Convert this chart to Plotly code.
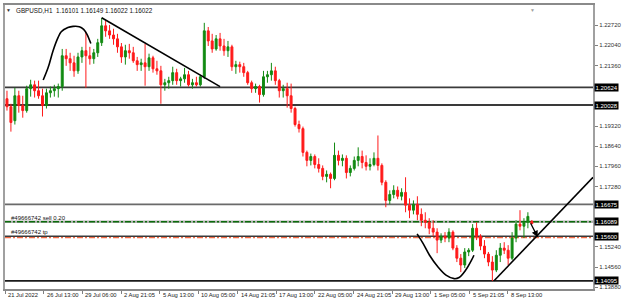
import plotly.graph_objects as go

# ---------------- data ----------------
opens = [1.2024, 1.1997, 1.1950, 1.2034, 1.2001, 1.1984, 1.2058, 1.2071, 1.2051, 1.2034,
         1.2001, 1.2044, 1.2051, 1.2058, 1.2065, 1.2169, 1.2159, 1.2145, 1.2118, 1.2165,
         1.2186, 1.2169, 1.2159, 1.2179, 1.2213, 1.2270, 1.2253, 1.2239, 1.2226, 1.2199,
         1.2165, 1.2186, 1.2179, 1.2152, 1.2139, 1.2145, 1.2132, 1.2162, 1.2125, 1.2118,
         1.2071, 1.2078, 1.2085, 1.2112, 1.2085, 1.2091, 1.2105, 1.2071, 1.2078, 1.2071,
         1.2098, 1.2253, 1.2219, 1.2192, 1.2226, 1.2202, 1.2186, 1.2199, 1.2132, 1.2139,
         1.2132, 1.2112, 1.2078, 1.2058, 1.2065, 1.2038, 1.2098, 1.2105, 1.2118, 1.2085,
         1.2051, 1.2058, 1.2034, 1.1991, 1.1937, 1.1923, 1.1843, 1.1816, 1.1829, 1.1802,
         1.1789, 1.1762, 1.1769, 1.1755, 1.1833, 1.1816, 1.1823, 1.1775, 1.1789, 1.1816,
         1.1829, 1.1809, 1.1796, 1.1802, 1.1823, 1.1799, 1.1742, 1.1681, 1.1701, 1.1715,
         1.1695, 1.1708, 1.1665, 1.1648, 1.1668, 1.1634, 1.1614, 1.1607, 1.1587, 1.1574,
         1.1547, 1.1560, 1.1554, 1.1574, 1.1520, 1.1486, 1.1463, 1.1507, 1.1513, 1.1587,
         1.1560, 1.1527, 1.1500, 1.1473, 1.1446, 1.1496, 1.1520, 1.1513, 1.1486, 1.1554,
         1.1601, 1.1594, 1.1607, 1.16101]
highs = [1.2051, 1.2007, 1.2061, 1.2051, 1.2034, 1.2068, 1.2088, 1.2085, 1.2085, 1.2058,
         1.2058, 1.2065, 1.2071, 1.2075, 1.2192, 1.2192, 1.2179, 1.2169, 1.2179, 1.2199,
         1.2250, 1.2199, 1.2192, 1.2226, 1.2297, 1.2287, 1.2273, 1.2260, 1.2243, 1.2212,
         1.2206, 1.2209, 1.2199, 1.2165, 1.2159, 1.2209, 1.2176, 1.2169, 1.2152, 1.2135,
         1.2091, 1.2098, 1.2132, 1.2125, 1.2098, 1.2128, 1.2118, 1.2091, 1.2098, 1.2105,
         1.2280, 1.2266, 1.2243, 1.2239, 1.2246, 1.2226, 1.2219, 1.2206, 1.2152, 1.2149,
         1.2145, 1.2118, 1.2085, 1.2075, 1.2071, 1.2118, 1.2118, 1.2145, 1.2132, 1.2091,
         1.2071, 1.2078, 1.2075, 1.1997, 1.1950, 1.1930, 1.1849, 1.1839, 1.1836, 1.1823,
         1.1799, 1.1782, 1.1775, 1.1876, 1.1849, 1.1836, 1.1833, 1.1799, 1.1829, 1.1860,
         1.1849, 1.1833, 1.1823, 1.1843, 1.1900, 1.1806, 1.1749, 1.1715, 1.1732, 1.1728,
         1.1722, 1.1759, 1.1688, 1.1681, 1.1695, 1.1654, 1.1641, 1.1621, 1.1614, 1.1587,
         1.1570, 1.1574, 1.1587, 1.1580, 1.1530, 1.1500, 1.1520, 1.1520, 1.1601, 1.1607,
         1.1567, 1.1547, 1.1507, 1.1493, 1.1513, 1.1537, 1.1540, 1.1530, 1.1574, 1.1614,
         1.1648, 1.1621, 1.1641, 1.16149]
lows = [1.1984, 1.1913, 1.1937, 1.1977, 1.1960, 1.1977, 1.2031, 1.2028, 1.2024, 1.1964,
        1.1991, 1.2028, 1.2031, 1.2028, 1.2051, 1.2135, 1.2118, 1.2098, 1.2108, 1.2145,
        1.2061, 1.2139, 1.2142, 1.2165, 1.2202, 1.2233, 1.2226, 1.2206, 1.2179, 1.2145,
        1.2139, 1.2159, 1.2145, 1.2118, 1.2118, 1.2068, 1.2118, 1.2112, 1.2105, 1.2007,
        1.2051, 1.2058, 1.2071, 1.2071, 1.2065, 1.2078, 1.2065, 1.2058, 1.2065, 1.2065,
        1.2091, 1.2202, 1.2179, 1.2186, 1.2186, 1.2169, 1.2165, 1.2118, 1.2108, 1.2112,
        1.2098, 1.2071, 1.2044, 1.2044, 1.2011, 1.2031, 1.2078, 1.2085, 1.2071, 1.2028,
        1.2028, 1.1994, 1.1977, 1.1930, 1.1910, 1.1829, 1.1796, 1.1799, 1.1789, 1.1775,
        1.1749, 1.1742, 1.1722, 1.1749, 1.1799, 1.1796, 1.1755, 1.1762, 1.1782, 1.1796,
        1.1789, 1.1782, 1.1782, 1.1796, 1.1782, 1.1732, 1.1658, 1.1668, 1.1688, 1.1685,
        1.1681, 1.1641, 1.1621, 1.1634, 1.1614, 1.1594, 1.1587, 1.1567, 1.1560, 1.1503,
        1.1537, 1.1540, 1.1540, 1.1513, 1.1473, 1.1439, 1.1453, 1.1493, 1.1507, 1.1547,
        1.1513, 1.1486, 1.1459, 1.1409, 1.1439, 1.1473, 1.1500, 1.1463, 1.1480, 1.1540,
        1.1580, 1.1554, 1.1587, 1.16022]
closes = [1.1997, 1.1944, 1.2034, 1.2001, 1.1984, 1.2058, 1.2071, 1.2051, 1.2034, 1.2001,
          1.2044, 1.2051, 1.2058, 1.2065, 1.2169, 1.2159, 1.2145, 1.2118, 1.2165, 1.2186,
          1.2169, 1.2159, 1.2179, 1.2213, 1.2270, 1.2253, 1.2239, 1.2226, 1.2199, 1.2165,
          1.2186, 1.2179, 1.2152, 1.2139, 1.2145, 1.2132, 1.2162, 1.2125, 1.2118, 1.2071,
          1.2078, 1.2085, 1.2112, 1.2085, 1.2091, 1.2105, 1.2071, 1.2078, 1.2071, 1.2098,
          1.2253, 1.2219, 1.2192, 1.2226, 1.2202, 1.2186, 1.2199, 1.2132, 1.2139, 1.2132,
          1.2112, 1.2078, 1.2058, 1.2065, 1.2038, 1.2098, 1.2105, 1.2118, 1.2085, 1.2051,
          1.2058, 1.2034, 1.1991, 1.1937, 1.1923, 1.1843, 1.1816, 1.1829, 1.1802, 1.1789,
          1.1762, 1.1769, 1.1755, 1.1833, 1.1816, 1.1823, 1.1775, 1.1789, 1.1816, 1.1829,
          1.1809, 1.1796, 1.1802, 1.1823, 1.1799, 1.1742, 1.1681, 1.1701, 1.1715, 1.1695,
          1.1708, 1.1665, 1.1648, 1.1668, 1.1634, 1.1614, 1.1607, 1.1587, 1.1574, 1.1547,
          1.1560, 1.1554, 1.1574, 1.1520, 1.1486, 1.1463, 1.1507, 1.1513, 1.1587, 1.1560,
          1.1527, 1.1500, 1.1473, 1.1446, 1.1496, 1.1520, 1.1513, 1.1486, 1.1554, 1.1601,
          1.1594, 1.1607, 1.1627, 1.16022]
bar_index = list(range(len(opens)))

time_tick_pos = [-0.5, 9.33, 19.08, 28.93, 38.75, 48.5, 58.43, 68.18, 78.0, 87.83,
                 97.58, 107.33, 117.25, 126.93]
time_tick_labels = ["21 Jul 2022", "26 Jul 13:00", "29 Jul 06:00", "2 Aug 21:05",
                    "5 Aug 13:00", "10 Aug 05:00", "14 Aug 21:05", "17 Aug 13:00",
                    "22 Aug 05:00", "24 Aug 21:05", "29 Aug 13:00", "1 Sep 05:00",
                    "5 Sep 21:05", "8 Sep 13:00"]

# visible price-scale labels (the ones under the level boxes are hidden in the reference)
price_ticks = [1.13880, 1.14560, 1.15240, 1.17280, 1.17960,
               1.18640, 1.19320, 1.21360, 1.22040, 1.22720]

level_prices = [1.20624, 1.20028, 1.16675, 1.16089, 1.15600, 1.14095]
sell_price = 1.16089
tp_price = 1.15555

title_text = "GBPUSD,H1  1.16101 1.16149 1.16022 1.16022"
sell_label = "#49666742 sell 0.20"
tp_label = "#49666742 tp"

# trend lines / drawings (bar index, price)
down_line_x = [24.0, 54.0]
down_line_y = [1.2297, 1.2065]
up_line_x = [123.43, 148.5]
up_line_y = [1.1410, 1.1759]
top_arc_x = [9.18, 10.43, 11.68, 12.93, 13.75, 15.43, 16.75, 18.33, 19.43, 20.25, 21.25]
top_arc_y = [1.2087, 1.2129, 1.2186, 1.2230, 1.2250, 1.2264, 1.2268, 1.2267, 1.2258, 1.2242, 1.2210]
bottom_arc_x = [103.93, 105.43, 107.08, 109.18, 111.25, 113.33, 114.58, 116.25, 117.75, 118.33]
bottom_arc_y = [1.1568, 1.1536, 1.1496, 1.1457, 1.1429, 1.1417, 1.1421, 1.1446, 1.1480, 1.1496]
arrow_from = (132.5, 1.1609)
arrow_to = (134.5, 1.1557)

# ---------------- figure ----------------
W, H = 625, 304
ML, MR, MT, MB = 3, 26, 4, 15
X_RANGE = [-0.5, 148.5]
Y_RANGE = [1.13821, 1.23402]
FONT = "Liberation Sans"

fig = go.Figure()

fig.add_trace(go.Candlestick(
    x=bar_index, open=opens, high=highs, low=lows, close=closes,
    increasing=dict(line=dict(color="#128a12", width=1), fillcolor="#128a12"),
    decreasing=dict(line=dict(color="#ff1a1a", width=1), fillcolor="#ff1a1a"),
    whiskerwidth=0, showlegend=False, hoverinfo="skip",
))

for xs, ys in [(down_line_x, down_line_y), (up_line_x, up_line_y),
               (top_arc_x, top_arc_y), (bottom_arc_x, bottom_arc_y)]:
    fig.add_trace(go.Scatter(x=xs, y=ys, mode="lines", line=dict(color="black", width=1.6,
                             shape="spline"), showlegend=False, hoverinfo="skip"))

shapes = []
level_styles = [
    dict(color="#3a3a3a", width=1.8),
    dict(color="#3a3a3a", width=1.8),
    dict(color="#6a6a6a", width=1.8),
    dict(color="#b0b0b0", width=2.5),
    dict(color="#3a3a3a", width=1.6),
    dict(color="#1a1a1a", width=1.8),
]
for p, st in zip(level_prices, level_styles):
    shapes.append(dict(type="line", xref="paper", yref="y", x0=0, x1=1, y0=p, y1=p,
                       line=st, layer="below"))
shapes.append(dict(type="line", xref="paper", yref="y", x0=0, x1=1, y0=sell_price, y1=sell_price,
                   line=dict(color="#0b6b0b", width=1.3, dash="6px,2px,2px,2px"), layer="below"))
shapes.append(dict(type="line", xref="paper", yref="y", x0=0, x1=1, y0=tp_price, y1=tp_price,
                   line=dict(color="#f26a45", width=1.3, dash="6px,2px,2px,2px"), layer="below"))

annotations = []
# title
annotations.append(dict(xref="paper", yref="paper", x=(12 - ML) / 596, y=(289 - 9.3) / 285,
                        xanchor="left", yanchor="middle", showarrow=False, text=title_text,
                        font=dict(family=FONT, size=6.3, color="#111")))
annotations.append(dict(xref="paper", yref="paper", x=(7 - ML) / 596, y=(289 - 9.3) / 285,
                        xanchor="center", yanchor="middle", showarrow=False, text="▼",
                        font=dict(family=FONT, size=5, color="#333")))
# chart-shift marker
annotations.append(dict(xref="x", yref="paper", x=133.25, y=1, xanchor="center", yanchor="top",
                        showarrow=False, text="▼", font=dict(family=FONT, size=5, color="#a0a0a0")))
# order labels
annotations.append(dict(xref="paper", yref="y", x=(7 - ML) / 596, y=sell_price, xanchor="left",
                        yanchor="bottom", showarrow=False, text=sell_label, yshift=-1,
                        font=dict(family=FONT, size=6, color="#111")))
annotations.append(dict(xref="paper", yref="y", x=(7 - ML) / 596, y=1.15600, xanchor="left",
                        yanchor="bottom", showarrow=False, text=tp_label, yshift=-1,
                        font=dict(family=FONT, size=6, color="#111")))
# time labels
for tp, tl in zip(time_tick_pos, time_tick_labels):
    annotations.append(dict(xref="x", yref="paper", x=tp, y=0, xanchor="left", yanchor="top",
                            xshift=1, yshift=-1, showarrow=False, text=tl,
                            font=dict(family=FONT, size=5.8, color="#222")))
# price boxes
for p in level_prices:
    annotations.append(dict(xref="paper", yref="y", x=1, y=p, xanchor="left", yanchor="middle",
                            xshift=1, showarrow=False, text=f"{p:.5f}", bgcolor="#000000",
                            borderpad=0.5, font=dict(family=FONT, size=6, color="#ffffff")))
# arrow
annotations.append(dict(xref="x", yref="y", axref="x", ayref="y", x=arrow_to[0], y=arrow_to[1],
                        ax=arrow_from[0], ay=arrow_from[1], showarrow=True, arrowhead=2,
                        arrowsize=1, arrowwidth=1.3, arrowcolor="black", text=""))

fig.update_layout(
    width=W, height=H, margin=dict(l=ML, r=MR, t=MT, b=MB),
    paper_bgcolor="white", plot_bgcolor="white",
    shapes=shapes, annotations=annotations, showlegend=False,
    xaxis=dict(range=X_RANGE, rangeslider=dict(visible=False), showgrid=False, zeroline=False,
               tickmode="array", tickvals=time_tick_pos, showticklabels=False,
               ticks="outside", ticklen=3, tickcolor="#808080",
               showline=True, linecolor="#8a8a8a", linewidth=1.5, mirror=True),
    yaxis=dict(range=Y_RANGE, side="right", showgrid=False, zeroline=False,
               tickmode="array", tickvals=price_ticks,
               ticktext=[f"{v:.5f}" for v in price_ticks],
               ticks="outside", ticklen=3, tickcolor="#808080",
               tickfont=dict(family=FONT, size=6, color="#333"),
               showline=True, linecolor="#a0a0a0", linewidth=2, mirror=True),
)

fig.write_html("out.html")
